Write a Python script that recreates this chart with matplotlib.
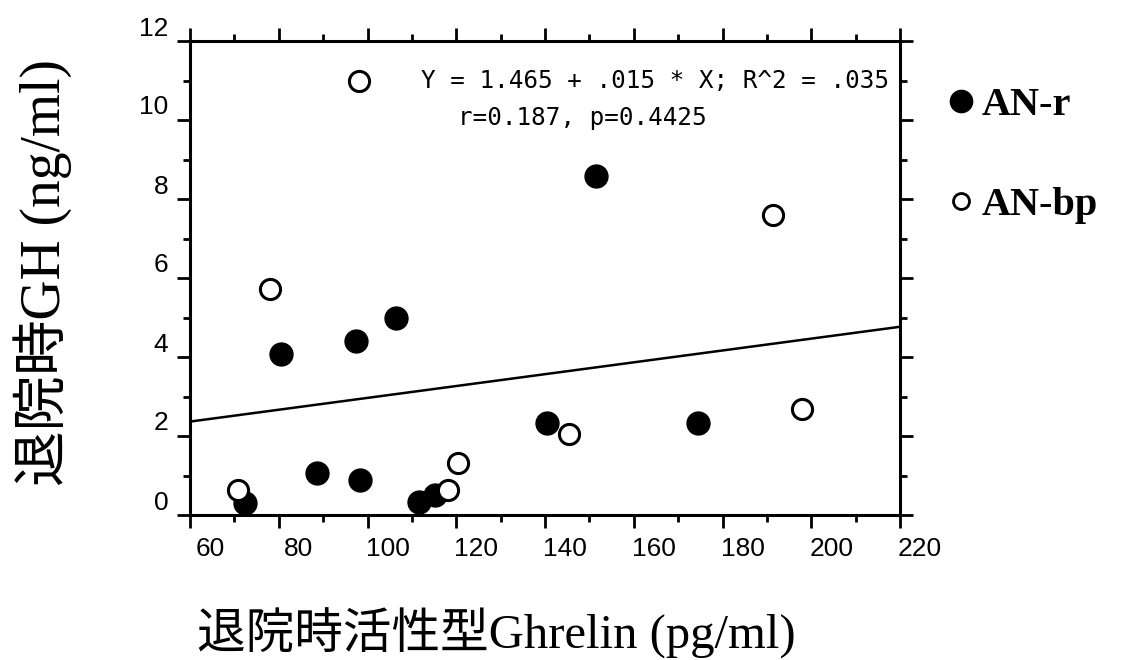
import matplotlib
matplotlib.use("Agg")
import matplotlib.pyplot as plt
from matplotlib.lines import Line2D
from matplotlib.transforms import ScaledTranslation
import numpy as np

# ---- data ----
anr_x = [72.4, 80.5, 88.7, 97.4, 98.3, 106.4, 111.7, 115.2, 140.4, 151.5, 174.4]
anr_y = [0.30, 4.08, 1.06, 4.41, 0.89, 4.99, 0.32, 0.51, 2.32, 8.58, 2.32]
anbp_x = [70.9, 78.0, 98.1, 118.2, 120.5, 145.5, 191.4, 198.0]
anbp_y = [0.63, 5.72, 10.99, 0.63, 1.32, 2.05, 7.59, 2.68]
intercept = 1.465
slope = 0.015
x_ticks = [60, 80, 100, 120, 140, 160, 180, 200, 220]
y_ticks = [0, 2, 4, 6, 8, 10, 12]
eq_text = "Y = 1.465 + .015 * X; R^2 = .035"
stat_text = "r=0.187, p=0.4425"
series_labels = ["AN-r", "AN-bp"]
x_label = "退院時活性型Ghrelin (pg/ml)"
y_label = "退院時GH (ng/ml)"

W, H = 1122, 660
fig = plt.figure(figsize=(W / 100, H / 100), dpi=100)
ax = fig.add_axes([190 / W, (H - 515) / H, 710 / W, (515 - 41) / H])

lw = 2.2
ax.set_xlim(60, 220)
ax.set_ylim(0, 12)

# regression line
xl = np.array([60, 220])
ax.plot(xl, intercept + slope * xl, color="black", lw=1.8, zorder=2)

# points
ax.plot(anr_x, anr_y, "o", ms=16.5, color="black", mec="black", zorder=3, clip_on=False)
ax.plot(anbp_x, anbp_y, "o", ms=14.5, mfc="white", mec="black", mew=2.2, zorder=3, clip_on=False)

# spines & ticks
for s in ax.spines.values():
    s.set_linewidth(lw)
ax.set_xticks(x_ticks)
ax.set_yticks(y_ticks)
ax.set_xticks(np.arange(70, 220, 20), minor=True)
ax.set_yticks(np.arange(1, 12, 2), minor=True)
ax.tick_params(which="both", direction="out", top=True, right=True,
               labeltop=False, labelright=False, width=2.0, color="black")
ax.tick_params(which="major", length=9.5, pad=6, labelsize=19)
ax.tick_params(which="minor", length=5)
for lab in ax.get_xticklabels() + ax.get_yticklabels():
    lab.set_fontfamily("Liberation Sans")
for lab in ax.get_xticklabels():
    lab.set_transform(lab.get_transform() + ScaledTranslation(0.20, 0, fig.dpi_scale_trans))
for lab in ax.get_yticklabels():
    lab.set_transform(lab.get_transform() + ScaledTranslation(0, 0.15, fig.dpi_scale_trans))

# annotation
ax.text(112.0, 10.98, eq_text, fontsize=17.5, family="DejaVu Sans Mono", va="center", ha="left")
ax.text(120.4, 10.05, stat_text, fontsize=17.5, family="DejaVu Sans Mono", va="center", ha="left")

# axis labels
ax.set_xlabel(x_label, fontsize=35, family=["Liberation Serif", "Noto Sans CJK JP"])
ax.xaxis.set_label_coords((496 - 190) / 710, (515 - 633) / 474)
ax.xaxis.label.set_va("center")
ax.set_ylabel(y_label, fontsize=40, family=["Liberation Serif", "Noto Sans CJK JP"])
ax.yaxis.set_label_coords((43 - 190) / 710, (515 - 272) / 474)
ax.yaxis.label.set_va("center")

# legend
handles = [
    Line2D([], [], ls="none", marker="o", ms=16, color="black"),
    Line2D([], [], ls="none", marker="o", ms=11.5, mfc="white", mec="black", mew=2.0),
]
leg = ax.legend(handles, series_labels, loc="upper left", bbox_to_anchor=(1.0465, 0.937),
                frameon=False, handlelength=0.6, handletextpad=0.2, labelspacing=1.55,
                prop={"family": "Liberation Serif", "weight": "bold", "size": 29},
                borderaxespad=0)

fig.savefig("out.png", dpi=100)
